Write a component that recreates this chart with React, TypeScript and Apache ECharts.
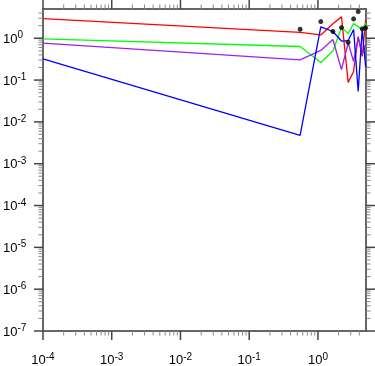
import React, { useEffect, useRef } from 'react';
import * as echarts from 'echarts';

// ---- data ----
const X_VALUES = [0.0001, 0.55, 1.1, 1.65, 2.2, 2.75, 3.3, 3.85, 4.4, 4.95];
const RED = [2.95, 1.375, 1.2, 2.22, 3.24, 0.088, 0.16, 1.1, 0.366, 2.8];
const GREEN = [0.97, 0.634, 0.263, 0.495, 1.8, 1.29, 2.24, 1.9, 1.61, 2.3];
const PURPLE = [0.76, 0.305, 0.51, 0.93, 0.179, 0.77, 0.278, 1.04, 0.41, 0.71];
const BLUE = [0.322, 0.00476, 1.87, 1.45, 0.857, 0.88, 1.61, 0.0535, 1.61, 0.2];
const DOT_X = [0.55, 1.1, 1.65, 2.2, 2.75, 3.3, 3.85, 4.4, 4.95];
const DOT_Y = [1.64, 2.5, 1.45, 1.8, 0.8, 2.9, 4.34, 1.68, 1.77];

const X_MIN = 1e-4;
const X_MAX = 5;
const Y_MIN = 1e-7;
const Y_MAX = 5;

const X_MAJOR = [1e-4, 1e-3, 1e-2, 1e-1, 1];
const Y_MAJOR = [1e-7, 1e-6, 1e-5, 1e-4, 1e-3, 1e-2, 1e-1, 1];
const MINOR_MULT = [2, 3, 4, 5, 6, 7, 8, 9];

function minorTicks(majors: number[], max: number): number[] {
  const out: number[] = [];
  majors.forEach((m) => {
    MINOR_MULT.forEach((k) => {
      const v = m * k;
      if (v < max * 0.999) out.push(v);
    });
  });
  return out;
}

const X_MINOR = minorTicks(X_MAJOR, X_MAX);
const Y_MINOR = minorTicks(Y_MAJOR, Y_MAX);

const FONT = 'Liberation Sans, Arial, Helvetica, sans-serif';

function powLabel(v: number): string {
  const e = Math.log10(v);
  const r = Math.round(e);
  if (Math.abs(e - r) > 1e-6) return '';
  return `{b|10}{s|${r}}`;
}

const rich = {
  b: { fontSize: 13, lineHeight: 17, color: '#000', fontFamily: FONT },
  s: { fontSize: 10, lineHeight: 10, verticalAlign: 'top', color: '#000', fontFamily: FONT },
};

const MAJOR_LEN = 9;
const MINOR_LEN = 4.5;
const MAJOR_STYLE = { stroke: '#444', lineWidth: 1.5 };
const MINOR_STYLE = { stroke: '#888', lineWidth: 1 };

function pair(xs: number[], ys: number[]) {
  return xs.map((x, i) => [x, ys[i]]);
}

export default function App() {
  const ref = useRef<HTMLDivElement>(null);
  useEffect(() => {
    if (!ref.current) return;
    const chart = echarts.init(ref.current, null, { renderer: 'svg' });
    const lineSeries = (name: string, ys: number[], color: string) => ({
      name,
      type: 'line',
      data: pair(X_VALUES, ys),
      symbol: 'none',
      lineStyle: { color, width: 1.3 },
      itemStyle: { color },
      z: 3,
    });
    const option: any = {
      animation: false,
      grid: {
        left: 42,
        top: 9,
        right: 9,
        bottom: 34,
        show: true,
        borderColor: '#666',
        borderWidth: 2,
        backgroundColor: 'transparent',
      },
      xAxis: {
        type: 'log',
        logBase: 10,
        min: X_MIN,
        max: X_MAX,
        axisLine: { show: false },
        axisTick: { show: false },
        splitLine: { show: false },
        minorTick: { show: false },
        axisLabel: {
          margin: 20,
          formatter: (v: number) => powLabel(v),
          rich,
          showMaxLabel: true,
          showMinLabel: true,
        },
      },
      yAxis: {
        type: 'log',
        logBase: 10,
        min: Y_MIN,
        max: Y_MAX,
        axisLine: { show: false },
        axisTick: { show: false },
        splitLine: { show: false },
        minorTick: { show: false },
        axisLabel: {
          margin: 40,
          align: 'left',
          formatter: (v: number) => powLabel(v),
          rich,
          showMaxLabel: true,
          showMinLabel: true,
        },
      },
      series: [
        {
          type: 'custom',
          name: 'xticks',
          clip: false,
          silent: true,
          z: 5,
          data: [
            ...X_MAJOR.map((v) => [v, Y_MIN, 1]),
            ...X_MINOR.map((v) => [v, Y_MIN, 0]),
          ],
          encode: { x: 0, y: 1 },
          renderItem: (_p: any, api: any) => {
            const v = api.value(0);
            const major = api.value(2) === 1;
            const b = api.coord([v, Y_MIN]);
            const t = api.coord([v, Y_MAX]);
            const len = major ? MAJOR_LEN : MINOR_LEN;
            const style = major ? MAJOR_STYLE : MINOR_STYLE;
            return {
              type: 'group',
              children: [
                { type: 'line', shape: { x1: b[0], y1: b[1], x2: b[0], y2: b[1] + len }, style },
                { type: 'line', shape: { x1: t[0], y1: t[1], x2: t[0], y2: t[1] - len }, style },
              ],
            };
          },
        },
        {
          type: 'custom',
          name: 'yticks',
          clip: false,
          silent: true,
          z: 5,
          data: [
            ...Y_MAJOR.map((v) => [X_MIN, v, 1]),
            ...Y_MINOR.map((v) => [X_MIN, v, 0]),
          ],
          encode: { x: 0, y: 1 },
          renderItem: (_p: any, api: any) => {
            const v = api.value(1);
            const major = api.value(2) === 1;
            const l = api.coord([X_MIN, v]);
            const r = api.coord([X_MAX, v]);
            const len = major ? MAJOR_LEN : MINOR_LEN;
            const style = major ? MAJOR_STYLE : MINOR_STYLE;
            return {
              type: 'group',
              children: [
                { type: 'line', shape: { x1: l[0], y1: l[1], x2: l[0] - len, y2: l[1] }, style },
                { type: 'line', shape: { x1: r[0], y1: r[1], x2: r[0] + len, y2: r[1] }, style },
              ],
            };
          },
        },
        lineSeries('red', RED, '#ff0000'),
        lineSeries('green', GREEN, '#00ff00'),
        lineSeries('purple', PURPLE, '#a020f0'),
        lineSeries('blue', BLUE, '#0000ff'),
        {
          name: 'dots',
          type: 'scatter',
          data: pair(DOT_X, DOT_Y),
          symbol: 'circle',
          symbolSize: 5,
          itemStyle: { color: '#000' },
          z: 4,
        },
      ],
    };
    chart.setOption(option);
    return () => chart.dispose();
  }, []);
  return (
    <div
      ref={ref}
      style={{ position: 'fixed', left: 0, top: 0, width: 375, height: 366 }}
    />
  );
}
